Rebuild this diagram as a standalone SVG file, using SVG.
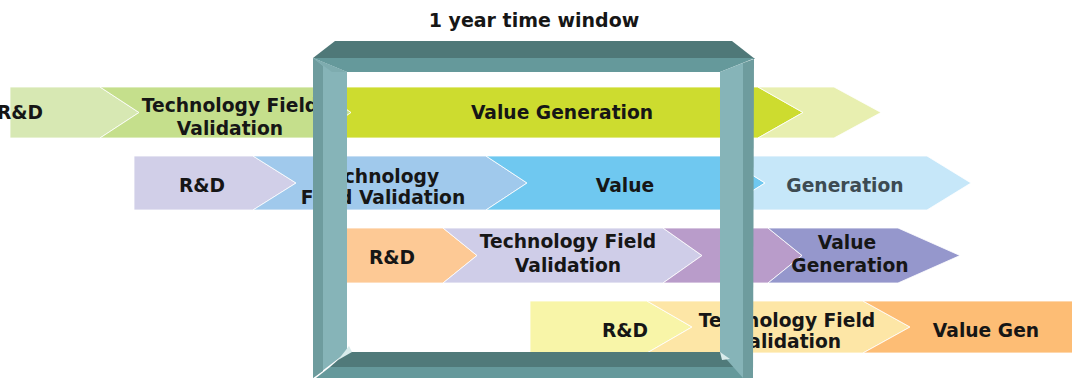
<svg xmlns="http://www.w3.org/2000/svg" width="1072" height="378" viewBox="0 0 1072 378">
<style>
.t{font-family:"DejaVu Sans",Verdana,sans-serif;font-weight:bold;font-size:18.7px;fill:#161616;text-anchor:middle}
.ch{stroke:#ffffff;stroke-width:1;stroke-opacity:0.8}
</style>
<rect width="1072" height="378" fill="#ffffff"/>
<text class="t" x="534" y="27" style="font-size:19px">1 year time window</text>

<g id="row1">
  <g id="r1-rd"><polygon class="ch" fill="#d7e8b3" points="10,87 100,87 139,112.5 100,138 10,138"/><text class="t" x="20" y="119">R&amp;D</text></g>
  <g id="r1-tech"><polygon class="ch" fill="#c5df8c" points="100,87 315,87 351,112.5 315,138 100,138 139,112.5"/><text class="t" x="230" y="112">Technology Field</text><text class="t" x="230" y="135">Validation</text></g>
  <g id="r1-val"><polygon class="ch" fill="#cddc2f" points="315,87 758,87 803,112.5 758,138 315,138 351,112.5"/><text class="t" x="562" y="119">Value Generation</text></g>
  <g id="r1-ext"><polygon class="ch" fill="#e8efb0" points="758,87 834,87 881,112.5 834,138 758,138 803,112.5"/></g>
</g>

<g id="row2">
  <g id="r2-rd"><polygon class="ch" fill="#d1cfe8" points="134,156 253,156 296,183 253,210 134,210"/><text class="t" x="202" y="192">R&amp;D</text></g>
  <g id="r2-tech"><polygon class="ch" fill="#a0c9ec" points="253,156 486,156 527,183 486,210 253,210 296,183"/><text class="t" x="380" y="183">Technology</text><text class="t" x="383" y="204">Field Validation</text></g>
  <g id="r2-val"><polygon class="ch" fill="#6fc8f0" points="486,156 722,156 765,183 722,210 486,210 527,183"/><text class="t" x="625" y="192">Value</text></g>
  <g id="r2-gen"><polygon class="ch" fill="#c6e7f9" points="722,156 927,156 971,183 927,210 722,210 765,183"/><text class="t" x="845" y="192" style="fill:#3d4b52">Generation</text></g>
</g>

<g id="row3">
  <g id="r3-rd"><polygon class="ch" fill="#fdc995" points="335,228 443,228 477,255.5 443,283 335,283"/><text class="t" x="392" y="264">R&amp;D</text></g>
  <g id="r3-tech"><polygon class="ch" fill="#cfcde8" points="443,228 663,228 702,255.5 663,283 443,283 477,255.5"/><text class="t" x="568" y="248">Technology Field</text><text class="t" x="568" y="272">Validation</text></g>
  <g id="r3-mid"><polygon class="ch" fill="#b99cca" points="663,228 768,228 802,255.5 768,283 663,283 702,255.5"/></g>
  <g id="r3-val"><polygon class="ch" fill="#9597cc" points="768,228 898,228 960,255.5 898,283 768,283 802,255.5"/><text class="t" x="847" y="249">Value</text><text class="t" x="850" y="272">Generation</text></g>
</g>

<g id="row4">
  <g id="r4-rd"><polygon class="ch" fill="#f8f5a8" points="530,301 647,301 692,327 647,353 530,353"/><text class="t" x="625" y="337">R&amp;D</text></g>
  <g id="r4-tech"><polygon class="ch" fill="#fde6a6" points="647,301 863,301 910,327 863,353 647,353 692,327"/><text class="t" x="787" y="327">Technology Field</text><text class="t" x="788" y="348">Validation</text></g>
  <g id="r4-val"><polygon class="ch" fill="#fdbd75" points="863,301 1080,301 1080,353 863,353 910,327"/><text class="t" x="986" y="337">Value Gen</text></g>
</g>

<g id="frame">
  <polygon fill="#4f7878" points="313,58 335,41 732,41 755,59"/>
  <polygon fill="#65999b" points="313,58 755,58 720,72 347,72"/>
  <polygon fill="#507a7a" points="347,352 720,352 738,367 330,367"/>
  <polygon fill="#65999b" points="330,367 738,367 753,378 316,378"/>
  <polygon fill="#86b4b8" points="313,58 347,72 347,352 313,378"/>
  <polygon fill="#6e9c9e" points="313,58 323,66 323,371 313,378"/>
  <polygon fill="#7eacaf" points="313,58 332,72 347,72"/>
  <polygon fill="#d9ecec" points="338,360 349,346 352,352"/>
  <polygon fill="#86b4b8" points="720,72 743,63 743,378 720,352"/>
  <polygon fill="#6e9c9e" points="743,63 754,59 753,378 743,378"/>
  <polygon fill="#7eacaf" points="720,72 743,63 754,59"/>
  <polygon fill="#d9ecec" points="720,352 730,359 722,360"/>
</g>
</svg>
